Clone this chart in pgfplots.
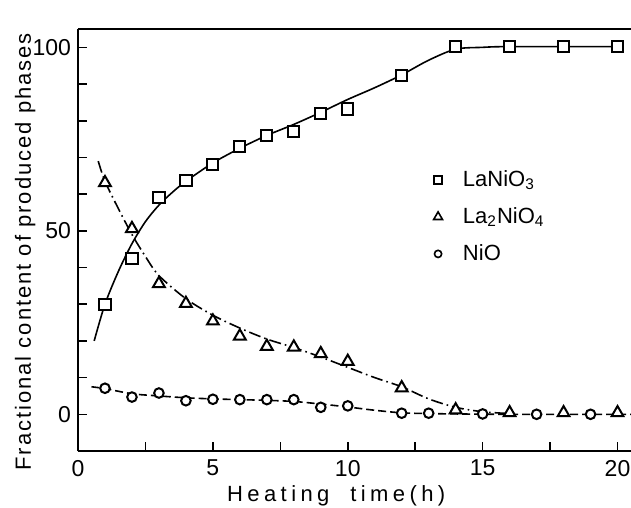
\documentclass[border=0pt]{standalone}
\usepackage{fontspec}
\setmainfont{Liberation Sans}
\usepackage{pgfplots}
\pgfplotsset{compat=1.18}

\begin{document}
\begin{tikzpicture}
\useasboundingbox (-39pt,-28.5pt) rectangle (276.5pt,225.5pt);
\begin{axis}[
    scale only axis,
    width=276.5pt, height=211pt,
    xmin=0, xmax=20.5, ymin=-10, ymax=105,
    axis x line*=box, axis y line*=left,
    xtick={0,5,10,15,20},
    minor xtick={2.5,7.5,12.5,17.5},
    ytick={0,50,100},
    minor ytick={10,20,30,40,60,70,80,90},
    xtick pos=bottom, ytick pos=left,
    tick align=inside,
    major tick length=4.5pt, minor tick length=4.5pt,
    axis line style={line width=1pt, -},
    every tick/.style={line width=0.8pt, black},
    /pgf/number format/assume math mode=true,
    tick label style={font=\fontsize{11.5}{13}\selectfont},
    xticklabel style={yshift=-1pt},
    xlabel={\addfontfeatures{LetterSpace=20}Heating\ \ time(h)},
    xlabel style={at={(axis description cs:0.467,0)}, anchor=base, yshift=-25pt},
    ylabel={\addfontfeatures{LetterSpace=9}Fractional\ content\ of\ produced\ phases},
    ylabel style={at={(axis description cs:-0.085,0.472)}, rotate=0, anchor=base},
    label style={font=\fontsize{11}{13}\selectfont},
    legend style={at={(axis description cs:0.628,0.675)}, anchor=north west,
      draw=none, fill=none, font=\fontsize{11}{13}\selectfont,
      row sep=5pt, inner sep=0pt},
    legend cell align=left,
    legend image code/.code={\draw[#1, mark options={scale=0.75}, line width=0.8pt] plot coordinates {(0.2cm,0cm)};
      \path (0cm,0cm) (0.55cm,0cm);},
  ]
  % fitted curves
  \addplot[black, line width=0.8pt, smooth, forget plot] coordinates {
    (0.6,20) (1,30) (1.5,39) (2,46.5) (2.5,52.5) (3,57) (3.5,60.5) (4,63.5)
    (5,68.5) (6,72.5) (7,76) (8,79) (9,82.3) (10,85.8) (11,89) (12,92.5)
    (13,96.5) (14,99.5) (15,100) (16,100.2) (20,100.2)};
  \addplot[black, line width=0.8pt, smooth, forget plot,
    dash pattern=on 6pt off 2pt on 0.8pt off 2pt] coordinates {
    (0.75,69) (1,63.5) (1.5,56) (2,49) (2.5,43) (3,37.8) (4,31.5) (5,27)
    (6,23.5) (7,20.5) (8,18.2) (9,15.6) (10,12.8) (11,10) (12,7.5) (13,4.2)
    (14,1.9) (15,0.7) (16,0.2)};
  \addplot[black, line width=0.8pt, smooth, forget plot,
    dash pattern=on 4pt off 2pt] coordinates {
    (0.5,7.5) (1,7) (2,5.6) (3,5) (4,4.5) (5,4.2) (6,4) (7,3.8) (8,3.5)
    (9,2.8) (10,2) (11,1.1) (12,0.4) (13,0.2) (14,0.1) (16,0) (20.5,0)};
  % measured points
  \addplot[only marks, mark=square*, mark size=2.8pt, black, fill=white, line width=1pt]
    coordinates {(1,30) (2,42.5) (3,59) (4,63.8) (5,68) (6,73) (7,75.9) (8,77)
    (9,82) (10,83.2) (12,92.3) (14,100.3) (16,100.3) (18,100.3) (20,100.3)};
  \addlegendentry{LaNiO\textsubscript{3}}
  \addplot[only marks, mark=triangle*, mark size=3.4pt, black, fill=white, line width=1pt]
    coordinates {(1,63.1) (2,50.6) (3,35.6) (4,30.2) (5,25.4) (6,21.3) (7,18.5)
    (8,18.3) (9,16.5) (10,14.4) (12,7.2) (14,1.2) (16,0.4) (18,0.4) (20,0.4)};
  \addlegendentry{La\textsubscript{2}NiO\textsubscript{4}}
  \addplot[only marks, mark=*, mark size=2.4pt, black, fill=white, line width=1pt]
    coordinates {(1,7.1) (2,4.7) (3,5.8) (4,3.7) (5,4.1) (6,4) (7,4) (8,4)
    (9,1.9) (10,2.3) (12,0.3) (13,0.3) (15,0.1) (17,0) (19,0)};
  \addlegendentry{NiO}
\end{axis}
\end{tikzpicture}
\end{document}
